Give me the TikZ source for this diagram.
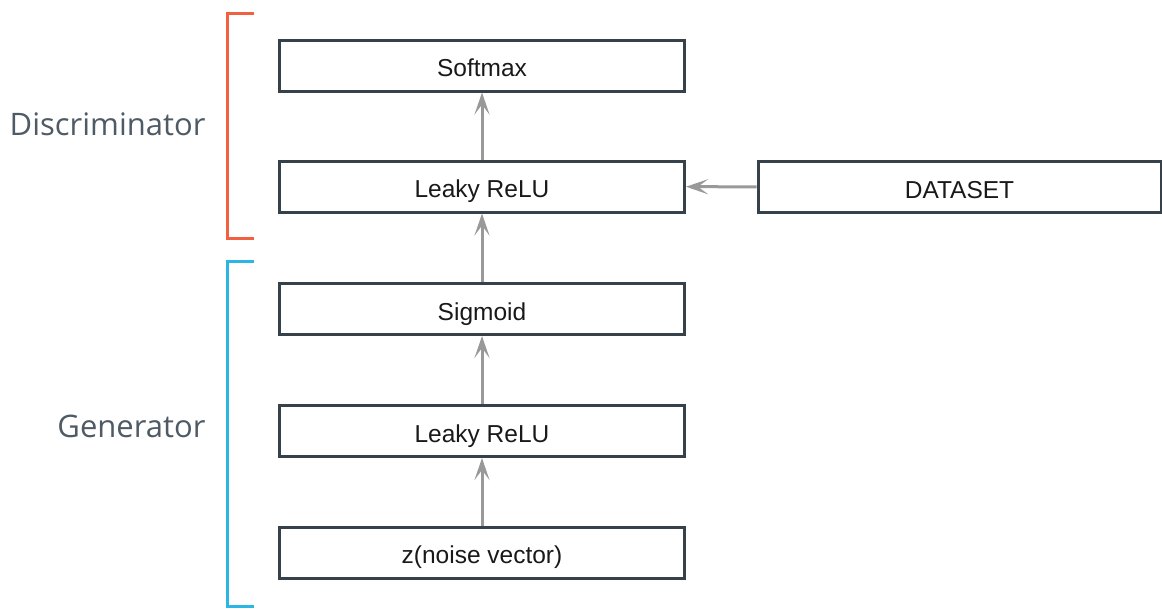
\documentclass[tikz,border=0pt]{standalone}
\usepackage{fontspec}
\setmainfont{Liberation Sans}
\newfontfamily\labelfont{Open Sans}
\usetikzlibrary{arrows.meta}
\definecolor{boxline}{HTML}{36414A}
\definecolor{flow}{HTML}{999999}
\definecolor{discr}{HTML}{F2603F}
\definecolor{gener}{HTML}{2BB7E6}
\definecolor{labelgray}{HTML}{4E5A65}
\tikzset{
  layer/.style={draw=boxline, line width=3pt, rectangle, minimum width=405pt,
    minimum height=51pt, inner sep=0pt, text height=22pt, text depth=0pt,
    font=\fontsize{24.5}{28}\selectfont, text=black!90},
  flowarrow/.style={draw=flow, line width=3pt,
    -{Stealth[length=22pt,width=15pt,inset=10pt]}},
  side/.style={font=\labelfont\fontsize{31}{36}\selectfont, text=labelgray, anchor=east},
  bracket/.style={line width=3pt}
}
\begin{document}
\begin{tikzpicture}[x=1pt,y=-1pt]
\useasboundingbox (0,0) rectangle (1162,608);
% layers
\node[layer] (soft) at (482,65.5) {Softmax};
\node[layer] (dleaky) at (482,186.5) {Leaky ReLU};
\node[layer] (sig) at (482,309) {Sigmoid};
\node[layer] (gleaky) at (482,431) {Leaky ReLU};
\node[layer] (z) at (482,552.5) {z(noise vector)};
\node[layer, minimum width=403pt] (data) at (959.5,187) {DATASET};
% data flow
\draw[flowarrow] (z) -- (gleaky);
\draw[flowarrow] (gleaky) -- (sig);
\draw[flowarrow] (sig) -- (dleaky);
\draw[flowarrow] (dleaky) -- (soft);
\draw[flowarrow] (data) -- (dleaky);
% group brackets
\coordinate (dtop) at (254,13.5);
\coordinate (dbot) at (254,238.5);
\coordinate (gtop) at (254,261);
\coordinate (gbot) at (254,606);
\draw[bracket, draw=discr] (dtop) -| (227,238.5) -- (dbot);
\draw[bracket, draw=gener] (gtop) -| (227,606) -- (gbot);
\node[side] (dlabel) at (209,124) {Discriminator};
\node[side] (glabel) at (209,426) {Generator};
\end{tikzpicture}
\end{document}
